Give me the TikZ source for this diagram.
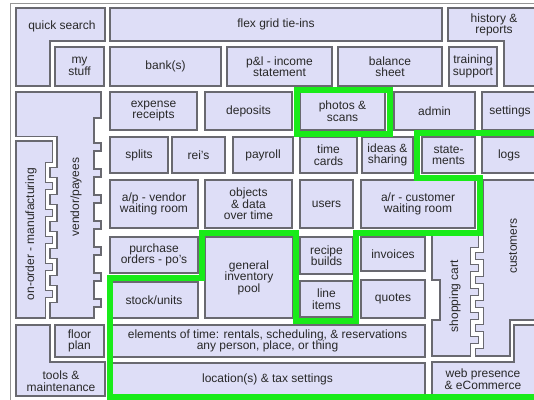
\documentclass[tikz,border=0pt]{standalone}
\usepackage{fontspec}
\setmainfont{Liberation Sans}
\definecolor{lav}{RGB}{222,222,247}
\definecolor{bord}{RGB}{105,105,112}
\definecolor{grn}{RGB}{25,235,25}
\definecolor{txt}{RGB}{40,40,40}
\definecolor{frm}{RGB}{150,150,150}
\tikzset{
 box/.style={draw=bord, fill=lav, line width=1.1pt, inner sep=0pt, align=center, text=txt, font=\fontsize{12}{11.5}\selectfont},
 shp/.style={draw=bord, fill=lav, line width=1.1pt},
 lbl/.style={inner sep=0pt, align=center, text=txt, font=\fontsize{12}{11.5}\selectfont},
 gapline/.style={draw=bord, line width=1.1pt, double=white, double distance=3.8pt},
 hl/.style={draw=grn, line width=6pt},
 frame/.style={draw=frm, line width=0.8pt}
}
\newcommand\bx[6]{\node[box, minimum width={#4-#2}, minimum height={#5-#3}] (#1) at ({(#2+#4)/2},{(#3+#5)/2}) {#6};}
\begin{document}
\begin{tikzpicture}[x=1pt,y=-1pt]
\useasboundingbox (0,0) rectangle (534,399);
\clip (0,0) rectangle (534,399);
\fill[white] (0,0) rectangle (534,399);
\draw[frame] (10,405) -- (10,3) -- (540,3);

% top rows
\draw[shp] (16,8) -- (105,8) -- (105,41) -- (50,41) -- (50,86) -- (16,86) -- cycle;
\node[lbl] (qs) at (62,26) {quick search};
\bx{my}{55}{47}{104}{86}{my\\stuff}
\bx{flex}{110}{8}{442}{41}{flex grid tie-ins}
\draw[shp] (448,8) -- (540,8) -- (540,86) -- (504,86) -- (504,41) -- (448,41) -- cycle;
\node[lbl] (hist) at (494,25) {history \&\\reports};
\bx{train}{449}{47}{497}{86}{training\\support}
\bx{bank}{110}{47}{221}{86}{bank(s)}
\bx{pl}{227}{47}{332}{86}{p\&l - income\\statement}
\bx{bal}{338}{47}{442}{86}{balance\\sheet}

% row 3
\bx{exp}{110}{92}{197}{130}{expense\\receipts}
\bx{dep}{205}{92}{292}{130}{deposits}
\bx{photo}{300}{92}{385}{130}{photos \&\\scans}
\bx{admin}{394}{92}{475}{130}{admin}
\bx{settings}{482}{92}{538}{130}{settings}

% row 4
\bx{splits}{110}{137}{168}{173}{splits}
\bx{reis}{172}{137}{225}{173}{rei's}
\bx{payroll}{233}{137}{293}{173}{payroll}
\bx{time}{300}{137}{357}{173}{time\\cards}
\bx{ideas}{362}{137}{413}{173}{ideas \&\\sharing}
\bx{state}{422}{137}{475}{173}{state-\\ments}
\bx{logs}{482}{137}{536}{173}{logs}

% row 5
\bx{ap}{110}{180}{198}{228}{a/p - vendor\\waiting room}
\bx{obj}{205}{180}{292}{228}{objects\\\& data\\over time}
\bx{users}{300}{180}{353}{228}{users}
\bx{ar}{361}{180}{475}{228}{a/r - customer\\waiting room}

% row 6
\bx{po}{110}{237}{198}{273}{purchase\\orders - po's}
\bx{gen}{205}{237}{293}{318}{general\\inventory\\pool}
\bx{recipe}{300}{237}{353}{274}{recipe\\builds}
\bx{line}{300}{281}{353}{317}{line\\items}
\bx{inv}{361}{237}{425}{271}{invoices}
\bx{quotes}{361}{280}{425}{318}{quotes}
\bx{stock}{110}{282}{198}{318}{stock/units}

% bottom rows
\bx{elem}{110}{325}{425}{357}{elements of time: rentals, scheduling, \& reservations\\any person, place, or thing}
\bx{loc}{110}{363}{425}{395}{location(s) \& tax settings}
\bx{floor}{55}{325}{104}{357}{floor\\plan}
\draw[shp] (16,325) -- (50,325) -- (50,362) -- (105,362) -- (105,396) -- (16,396) -- cycle;
\node[lbl] (tools) at (61,381) {tools \&\\maintenance};

% vendor/payees + on-order
\draw[shp] (16,92) -- (101,92) -- (101,118) -- (94,118)
 -- (94,143) -- (101,143) -- (101,151) -- (94,151)
 -- (94,169) -- (101,169) -- (101,177) -- (94,177)
 -- (94,195) -- (101,195) -- (101,203) -- (94,203)
 -- (94,221) -- (101,221) -- (101,229) -- (94,229)
 -- (94,247) -- (101,247) -- (101,255) -- (94,255)
 -- (94,273) -- (101,273) -- (101,281) -- (94,281)
 -- (94,299) -- (101,299) -- (101,307) -- (94,307)
 -- (94,318) -- (16,318) -- cycle;
\draw[gapline] (15.4,138.5) -- (54.5,138.5) -- (54.5,165) -- (47.5,165) -- (47.5,180) -- (54.5,180) -- (54.5,192) -- (47.5,192) -- (47.5,207) -- (54.5,207) -- (54.5,219) -- (47.5,219) -- (47.5,234) -- (54.5,234) -- (54.5,246) -- (47.5,246) -- (47.5,261) -- (54.5,261) -- (54.5,273) -- (47.5,273) -- (47.5,288) -- (54.5,288) -- (54.5,300) -- (47.5,300) -- (47.5,318.6);
\node[lbl, rotate=90] (vend) at (76,197) {vendor/payees};
\node[lbl, rotate=90] (onord) at (31,234) {on-order - manufacturing};

% shopping cart + customers
\draw[shp] (432,235) -- (483.5,235) -- (483.5,180) -- (540,180) -- (540,320) -- (510,320) -- (510,356) -- (432,356) -- (432,320) -- (440,320) -- (440,280) -- (432,280) -- cycle;
\draw[gapline] (481,234.4) -- (481,250) -- (473,250) -- (473,262) -- (481,262) -- (481,274) -- (473,274) -- (473,286) -- (481,286) -- (481,298) -- (473,298) -- (473,310) -- (481,310) -- (481,322) -- (473,322) -- (473,334) -- (481,334) -- (481,346) -- (473,346) -- (473,356.6);
\node[lbl, rotate=90] (cart) at (455,296) {shopping cart};
\node[lbl, rotate=90] (cust) at (513,246) {customers};

% web presence
\draw[shp] (432,362) -- (514,362) -- (514,325) -- (540,325) -- (540,396) -- (432,396) -- cycle;
\node[lbl] (web) at (483,379) {web presence\\\& eCommerce};

% green highlights
\draw[hl] (540,397) -- (110,397) -- (110,278) -- (202,278) -- (202,232.5) -- (296,232.5) -- (296,321) -- (356,321) -- (356,232.5) -- (480,232.5) -- (480,178) -- (416.5,178) -- (416.5,133) -- (540,133);
\draw[hl] (296.5,90) rectangle (390,133.5);
\end{tikzpicture}
\end{document}
